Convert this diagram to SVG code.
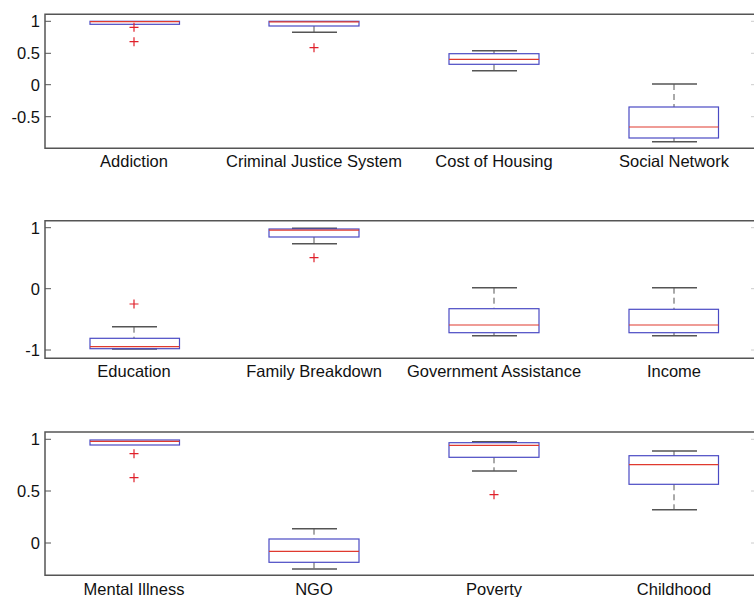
<svg xmlns="http://www.w3.org/2000/svg" width="754" height="597" viewBox="0 0 754 597">
<style>
text{font-family:"Liberation Sans",Arial,sans-serif;font-size:16.5px;fill:#111}
.tl{text-anchor:end}
.xl{text-anchor:middle}
.ax{fill:none;stroke:#555;stroke-width:1.5}
.tk{stroke:#555;stroke-width:1}
.rt{stroke:#ccc;stroke-width:1}
.box{fill:none;stroke:#4a4ac4;stroke-width:1.2}
.med{stroke:#e03a2e;stroke-width:1.2}
.wh{stroke:#555;stroke-width:1;stroke-dasharray:6 4}
.cap{stroke:#555;stroke-width:1.5}
.out{stroke:#e0202a;stroke-width:1.2;fill:none}
</style>
<rect width="754" height="597" fill="#fff"/>

<g id="panel1">
  <path class="ax" d="M754 14.3H45V148.3H754"/>
  <g class="tk"><path d="M45 21.3h6M45 53.3h6M45 84.7h6M45 116.7h6"/></g>
  <g class="rt"><path d="M751 21.3h3M751 53.3h3M751 84.7h3M751 116.7h3"/></g>
  <text class="tl" x="40" y="27.3">1</text>
  <text class="tl" x="40" y="59.3">0.5</text>
  <text class="tl" x="40" y="90.7">0</text>
  <text class="tl" x="40" y="122.7">-0.5</text>
  <g id="addiction">
    <rect class="box" x="90" y="21.3" width="89.5" height="3"/>
    <path class="med" d="M90 21.6h89.5"/>
    <path class="out" d="M129.5 27.3h9M134 22.8v9M129.5 41.7h9M134 37.2v9"/>
    <text class="xl" x="134" y="166.7">Addiction</text>
  </g>
  <g id="criminal-justice-system">
    <path class="wh" d="M314 26V32.3"/>
    <path class="cap" d="M292 32.3h45"/>
    <rect class="box" x="269" y="21.3" width="90" height="4.7"/>
    <path class="med" d="M269 21.8h90"/>
    <path class="out" d="M309.5 47.7h9M314 43.2v9"/>
    <text class="xl" x="314" y="166.7">Criminal Justice System</text>
  </g>
  <g id="cost-of-housing">
    <path class="wh" d="M494 50.7V53.7M494 64.3V70.7"/>
    <path class="cap" d="M472 50.7h45M472 70.7h45"/>
    <rect class="box" x="449" y="53.7" width="90" height="10.6"/>
    <path class="med" d="M449 59.3h90"/>
    <text class="xl" x="494" y="166.7">Cost of Housing</text>
  </g>
  <g id="social-network">
    <path class="wh" d="M674 84V107M674 138V141.7"/>
    <path class="cap" d="M652 84h45M652 141.7h45"/>
    <rect class="box" x="629" y="107" width="89.5" height="31"/>
    <path class="med" d="M629 127h89.5"/>
    <text class="xl" x="674" y="166.7">Social Network</text>
  </g>
</g>

<g id="panel2">
  <path class="ax" d="M754 220.7H45V358.3H754"/>
  <g class="tk"><path d="M45 227.7h6M45 288.7h6M45 350h6"/></g>
  <g class="rt"><path d="M751 227.7h3M751 288.7h3M751 350h3"/></g>
  <text class="tl" x="40" y="233.7">1</text>
  <text class="tl" x="40" y="294.7">0</text>
  <text class="tl" x="40" y="356">-1</text>
  <g id="education">
    <path class="wh" d="M134 326.7V338.3"/>
    <path class="cap" d="M112 326.7h45M112 349h45"/>
    <rect class="box" x="90" y="338.3" width="89.5" height="10.4"/>
    <path class="med" d="M90 346.7h89.5"/>
    <path class="out" d="M129.5 304h9M134 299.5v9"/>
    <text class="xl" x="134" y="376.5">Education</text>
  </g>
  <g id="family-breakdown">
    <path class="wh" d="M314 237V243.7"/>
    <path class="cap" d="M292 228.3h45M292 243.7h45"/>
    <rect class="box" x="269" y="229" width="90" height="8"/>
    <path class="med" d="M269 230.2h90"/>
    <path class="out" d="M309.5 257.7h9M314 253.2v9"/>
    <text class="xl" x="314" y="376.5">Family Breakdown</text>
  </g>
  <g id="government-assistance">
    <path class="wh" d="M494 287.7V308.7M494 332.7V335.7"/>
    <path class="cap" d="M472 287.7h45M472 335.7h45"/>
    <rect class="box" x="449" y="308.7" width="90" height="24"/>
    <path class="med" d="M449 325h90"/>
    <text class="xl" x="494" y="376.5">Government Assistance</text>
  </g>
  <g id="income">
    <path class="wh" d="M674 287.7V309.3M674 332.7V335.7"/>
    <path class="cap" d="M652 287.7h45M652 335.7h45"/>
    <rect class="box" x="629" y="309.3" width="89.5" height="23.4"/>
    <path class="med" d="M629 325h89.5"/>
    <text class="xl" x="674" y="376.5">Income</text>
  </g>
</g>

<g id="panel3">
  <path class="ax" d="M754 432H45V575.3H754"/>
  <g class="tk"><path d="M45 439.3h6M45 491h6M45 543h6"/></g>
  <g class="rt"><path d="M751 439.3h3M751 491h3M751 543h3"/></g>
  <text class="tl" x="40" y="445.3">1</text>
  <text class="tl" x="40" y="497">0.5</text>
  <text class="tl" x="40" y="549">0</text>
  <g id="mental-illness">
    <rect class="box" x="90" y="440" width="89.5" height="5"/>
    <path class="med" d="M90 441.4h89.5"/>
    <path class="out" d="M129.5 453.7h9M134 449.2v9M129.5 477.7h9M134 473.2v9"/>
    <text class="xl" x="134" y="595">Mental Illness</text>
  </g>
  <g id="ngo">
    <path class="wh" d="M314 528.7V539M314 562.3V569"/>
    <path class="cap" d="M292 528.7h45M292 569h45"/>
    <rect class="box" x="269" y="539" width="90" height="23.3"/>
    <path class="med" d="M269 551.3h90"/>
    <text class="xl" x="314" y="595">NGO</text>
  </g>
  <g id="poverty">
    <path class="wh" d="M494 457.3V471"/>
    <path class="cap" d="M472 441.7h45M472 471h45"/>
    <rect class="box" x="449" y="442.7" width="90" height="14.6"/>
    <path class="med" d="M449 445.3h90"/>
    <path class="out" d="M489.5 494.7h9M494 490.2v9"/>
    <text class="xl" x="494" y="595">Poverty</text>
  </g>
  <g id="childhood">
    <path class="wh" d="M674 451V455.7M674 484.3V509.7"/>
    <path class="cap" d="M652 451h45M652 509.7h45"/>
    <rect class="box" x="629" y="455.7" width="89.5" height="28.6"/>
    <path class="med" d="M629 464.7h89.5"/>
    <text class="xl" x="674" y="595">Childhood</text>
  </g>
</g>
</svg>
